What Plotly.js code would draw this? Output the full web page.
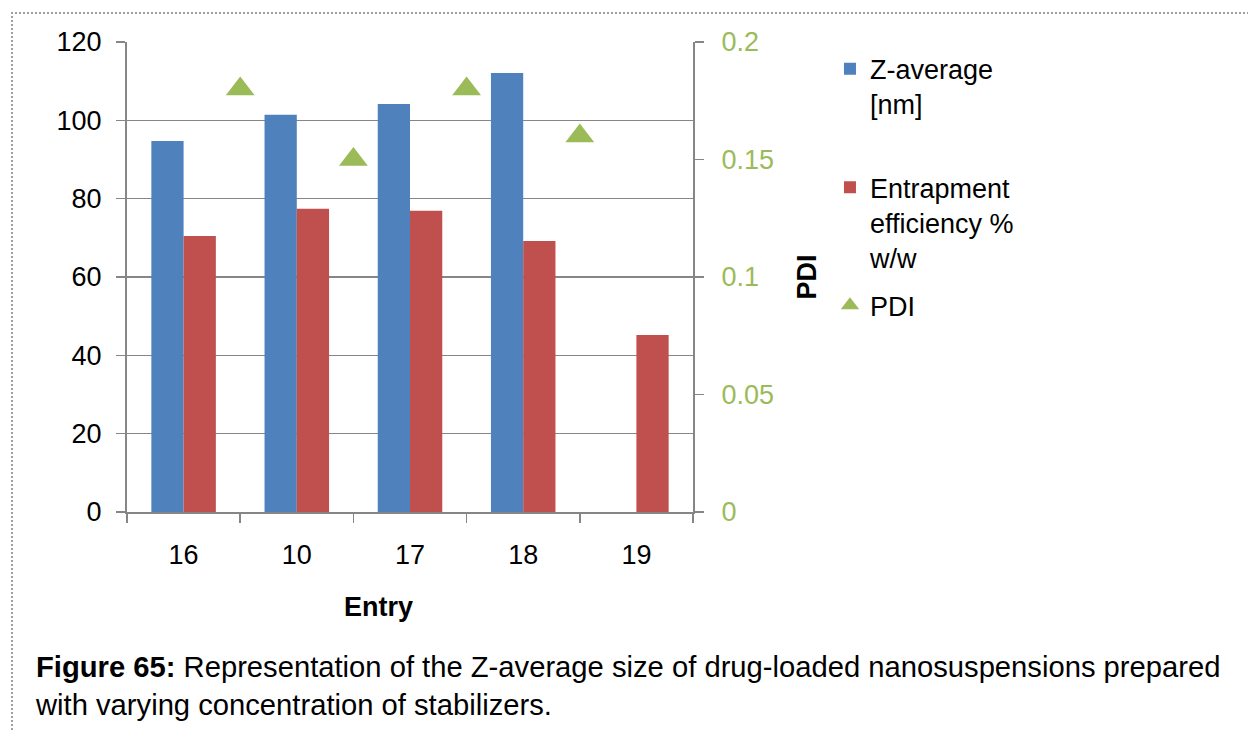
<!DOCTYPE html>
<html>
<head>
<meta charset="utf-8">
<script src="https://cdn.plot.ly/plotly-3.0.1.min.js"></script>
<style>
  html, body { margin: 0; padding: 0; background: #fff; overflow: hidden; }
  #frame { position: absolute; left: 11px; top: 12px; width: 1300px; height: 800px;
           border-left: 2px dotted #a0a0a0; border-top: 2px dotted #a0a0a0; }
  #chart { position: absolute; left: 0; top: 0; width: 1248px; height: 731px; }
</style>
</head>
<body>
<div id="frame"></div>
<div id="chart"></div>
<script>
// ---- data ----
const entries = ["16", "10", "17", "18", "19"];
const zAverage = [94.7, 101.4, 104.2, 112.1, null];
const entrapment = [70.5, 77.4, 76.9, 69.2, 45.2];
const pdiPositions = [0.5, 1.5, 2.5, 3.5];
const pdiValues = [0.18, 0.15, 0.18, 0.16];
const leftTicks = [0, 20, 40, 60, 80, 100, 120];
const rightTicks = [0, 0.05, 0.1, 0.15, 0.2];

const FONT = "Liberation Sans, Arial, sans-serif";
const GRAY = "#868686";
const BLUE = "#4F81BD", RED = "#C0504D", GREEN = "#9BBB59";

const traces = [
  { type: "bar", name: "Z-average<br>[nm]", x: entries, y: zAverage,
    marker: { color: BLUE }, legend: "legend", xaxis: "x", yaxis: "y" },
  { type: "bar", name: "Entrapment<br>efficiency %<br>w/w", x: entries, y: entrapment,
    marker: { color: RED }, legend: "legend2", xaxis: "x", yaxis: "y" },
  { type: "scatter", mode: "markers", name: "PDI", x: pdiPositions, y: pdiValues,
    marker: { symbol: "triangle-up", size: 25, color: GREEN },
    legend: "legend3", xaxis: "x2", yaxis: "y2" }
];

const legendBase = {
  xref: "paper", yref: "paper", xanchor: "left", yanchor: "top",
  bgcolor: "rgba(0,0,0,0)", valign: "top",
  font: { family: FONT, size: 27, color: "#000" }
};

const layout = {
  width: 1248, height: 731,
  margin: { l: 127, r: 555, t: 42, b: 219 },
  paper_bgcolor: "rgba(0,0,0,0)", plot_bgcolor: "rgba(0,0,0,0)",
  font: { family: FONT, size: 27, color: "#000" },
  barmode: "group", bargap: 0.43, bargroupgap: 0,
  showlegend: true,
  legend: Object.assign({}, legendBase, { x: 1.242, y: 0.994 }),
  legend2: Object.assign({}, legendBase, { x: 1.242, y: 0.742 }),
  legend3: Object.assign({}, legendBase, { x: 1.242, y: 0.491 }),
  xaxis: {
    type: "category", categoryorder: "array", categoryarray: entries,
    range: [-0.5, 4.5], tickson: "boundaries",
    ticks: "outside", ticklen: 9, tickwidth: 1.5, tickcolor: GRAY,
    showline: true, linecolor: GRAY, linewidth: 2, showgrid: false, zeroline: false,
    tickfont: { family: FONT, size: 27, color: "#000" }, ticklabelstandoff: 18
  },
  xaxis2: { overlaying: "x", anchor: "y2", range: [-0.5, 4.5], visible: false, fixedrange: true },
  yaxis: {
    range: [0, 120], tickvals: leftTicks,
    ticks: "outside", ticklen: 9, tickwidth: 1.5, tickcolor: GRAY,
    showline: true, linecolor: GRAY, linewidth: 2,
    showgrid: true, gridcolor: GRAY, gridwidth: 1.5, zeroline: false,
    tickfont: { family: FONT, size: 27, color: "#000" }, ticklabelstandoff: 9
  },
  yaxis2: {
    overlaying: "y", side: "right", anchor: "x",
    range: [0, 0.2], tickvals: rightTicks, ticktext: rightTicks.map(String),
    ticks: "outside", ticklen: 9, tickwidth: 1.5, tickcolor: GRAY,
    showline: true, linecolor: GRAY, linewidth: 2, showgrid: false, zeroline: false,
    tickfont: { family: FONT, size: 27, color: GREEN }, ticklabelstandoff: 12,
    title: { text: "<b>PDI</b>", font: { family: FONT, size: 27, color: "#000" }, standoff: 24 }
  },
  annotations: [
    { text: "<b>Entry</b>", xref: "paper", yref: "paper", x: 0.4435, y: -0.202,
      xanchor: "center", yanchor: "middle", showarrow: false,
      font: { family: FONT, size: 27, color: "#000" } },
    { text: "<b>Figure 65:</b> Representation of the Z-average size of drug-loaded nanosuspensions prepared<br>with varying concentration of stabilizers.",
      xref: "paper", yref: "paper", x: -0.166, y: -0.371, xanchor: "left", yanchor: "middle",
      align: "left", showarrow: false,
      font: { family: FONT, size: 29.2, color: "#000" } }
  ]
};

Plotly.newPlot("chart", traces, layout, { displayModeBar: false, staticPlot: true });
</script>
</body>
</html>
